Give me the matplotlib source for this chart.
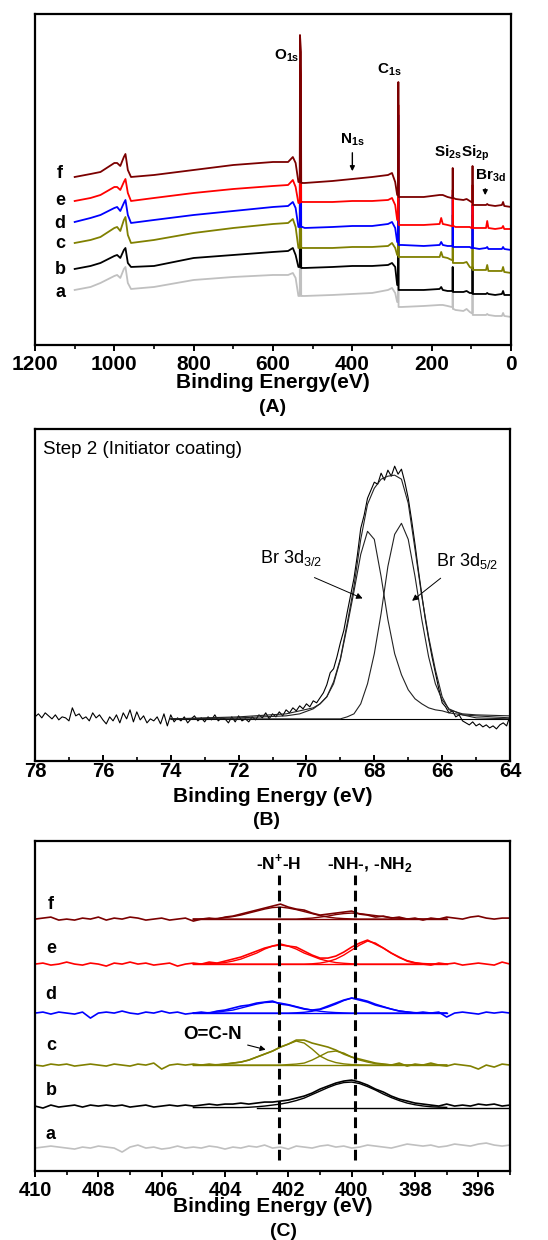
import numpy as np
import matplotlib
matplotlib.use('Agg')
import matplotlib.pyplot as plt
from matplotlib.ticker import MultipleLocator

plt.rcParams['font.family'] = ['Liberation Sans', 'DejaVu Sans']
plt.rcParams['axes.linewidth'] = 1.6

# ---------------- (A) survey spectra ----------------
energy_A = [1100, 1060, 1035, 1000, 993, 985, 976, 972, 966, 958,
            900, 800, 700, 600, 562, 550, 543, 536, 532.5, 532,
            529.5, 529, 526, 520, 450, 400, 350, 310, 300, 292,
            287, 284.5, 284, 283.5, 281, 275, 220, 180, 176, 172,
            160, 150, 147.5, 147, 146.5, 145, 140, 120, 112, 104,
            100, 97.5, 97, 96.5, 94, 80, 63, 60, 57, 40,
            23, 20, 17, 0]
survey_a = [55, 58, 62, 69, 70, 67, 76, 78, 62, 56,
            58, 65, 68, 70, 70, 72, 67, 49, 49, 190,
            180, 49, 49, 49, 50, 51, 52, 55, 57, 52,
            43, 43, 180, 38, 38, 38, 39, 40, 40, 40,
            39, 38, 38, 78, 36, 36, 35, 34, 36, 33,
            32, 32, 78, 30, 30, 30, 30, 31, 30, 29,
            29, 32, 29, 28]
survey_b = [76, 79, 82, 89, 90, 87, 95, 97, 82, 78,
            79, 87, 90, 93, 94, 97, 90, 78, 78, 210,
            200, 77, 77, 77, 78, 79, 79, 80, 82, 78,
            60, 60, 200, 55, 55, 55, 55, 56, 58, 55,
            54, 54, 54, 78, 53, 53, 53, 53, 54, 52,
            52, 52, 78, 51, 51, 51, 51, 52, 51, 50,
            51, 54, 50, 50]
survey_c = [102, 105, 108, 117, 118, 114, 125, 128, 110, 102,
            105, 112, 117, 121, 122, 126, 118, 97, 97, 230,
            220, 97, 97, 97, 97, 98, 98, 99, 102, 97,
            90, 90, 220, 88, 88, 88, 88, 88, 93, 88,
            87, 85, 85, 130, 82, 82, 82, 82, 83, 78,
            77, 77, 130, 75, 75, 75, 75, 80, 74, 74,
            74, 78, 73, 72]
survey_d = [123, 127, 130, 137, 138, 134, 142, 145, 130, 122,
            125, 130, 134, 138, 139, 143, 137, 118, 118, 250,
            240, 118, 118, 117, 118, 119, 119, 121, 123, 117,
            103, 103, 230, 100, 100, 100, 99, 100, 103, 100,
            99, 99, 99, 150, 98, 98, 98, 98, 98, 98,
            97, 97, 140, 97, 97, 96, 97, 98, 96, 96,
            96, 98, 96, 95]
survey_e = [144, 147, 150, 158, 158, 155, 163, 166, 152, 144,
            147, 152, 156, 159, 160, 165, 158, 142, 142, 280,
            270, 143, 143, 143, 143, 144, 144, 145, 147, 140,
            125, 125, 240, 120, 120, 120, 120, 121, 127, 121,
            120, 119, 119, 155, 119, 119, 118, 118, 118, 118,
            117, 117, 160, 117, 117, 117, 117, 124, 117, 116,
            117, 119, 116, 116]
survey_f = [168, 171, 173, 182, 182, 179, 188, 191, 175, 168,
            170, 175, 180, 183, 183, 188, 182, 163, 163, 310,
            293, 162, 162, 162, 164, 166, 168, 170, 172, 163,
            150, 150, 263, 148, 148, 148, 148, 150, 150, 150,
            148, 147, 147, 177, 147, 147, 146, 145, 146, 144,
            143, 143, 179, 140, 140, 140, 140, 141, 140, 139,
            140, 143, 139, 138]

sample_labels = ['a', 'b', 'c', 'd', 'e', 'f']
sample_colors = ['#c0c0c0', '#000000', '#808000', '#0000ff', '#ff0000', '#7b0000']

# ---------------- (B) Br 3d ----------------
br_raw = [44, 47, 43, 48, 45, 42, 46, 41, 44, 43,
          40, 53, 45, 47, 42, 44, 40, 48, 43, 46,
          41, 37, 44, 40, 46, 38, 48, 42, 51, 39,
          49, 41, 45, 38, 42, 40, 44, 37, 47, 35,
          46, 39, 43, 40, 44, 38, 42, 45, 40, 43,
          39, 44, 41, 46, 40, 43, 42, 38, 44, 39,
          45, 40, 42, 39, 44, 41, 46, 43, 48, 42,
          47, 44, 49, 45, 51, 48, 53, 50, 55, 52,
          57, 54, 60, 58, 63, 68, 76, 88, 92, 104,
          118, 130, 148, 165, 182, 205, 232, 245, 262, 270,
          278, 276, 287, 280, 290, 284, 294, 286, 291, 278,
          262, 240, 216, 190, 166, 142, 122, 104, 88, 72,
          58, 54, 48, 50, 44, 46, 40, 38, 36, 39,
          35, 37, 34, 36, 33, 35, 32, 36, 38, 35,
          45]
energy_B_raw = np.linspace(78.0, 64.0, len(br_raw))

energy_B_fit = [74.0, 72.0, 70.6, 70.2, 69.8, 69.6, 69.4, 69.2, 69.0, 68.8,
                68.6, 68.4, 68.2, 68.0, 67.8, 67.6, 67.4, 67.2, 67.0, 66.8,
                66.6, 66.4, 66.2, 66.0, 65.8, 65.4, 65.0, 64.0]
br_3d32 = [42, 43, 45, 47, 52, 57, 64, 77, 101, 134,
           169, 206, 229, 221, 184, 141, 107, 86, 71, 62,
           57, 53, 51, 50, 48, 46, 45, 43]
br_3d52 = [42, 42, 42, 42, 42, 42, 42, 42, 42, 44,
           47, 57, 77, 107, 147, 194, 226, 237, 221, 184,
           141, 104, 77, 61, 52, 46, 43, 42]
br_envelope = [42, 44, 47, 50, 53, 57, 64, 79, 102, 137,
               174, 221, 256, 272, 281, 284, 285, 281, 257, 211,
               164, 124, 91, 64, 51, 47, 46, 45]
br_background = 42

# ---------------- (C) N 1s ----------------
n1s_a = [0, 1, 2, 1, 0, -1, 1, 0, 2, 1,
         0, -4, 1, 3, 0, 1, -1, 0, 2, 0,
         1, 0, 2, 1, -1, 1, 0, 2, 1, 3,
         0, 1, -1, 2, 1, 0, 2, 3, 1, 2,
         0, 1, 3, 2, 1, 0, 2, 4, 3, 2,
         3, 1, 2, 4, 3, 2, 4, 5, 3, 2,
         3]
n1s_b = [0, -2, 1, -1, 0, 1, -1, 1, 0, 1,
         0, 1, -1, 0, 1, -1, 0, 1, 0, 1,
         0, 1, 2, 1, 2, 2, 3, 2, 3, 4,
         4, 5, 6, 8, 10, 13, 17, 20, 23, 25,
         26, 24, 21, 17, 14, 10, 7, 5, 3, 2,
         1, 0, 2, 0, 1, 0, 2, 1, 2, 0,
         1]
n1s_c = [0, -1, 1, 0, 1, -1, 0, 1, 0, -1,
         1, 0, -1, 1, 0, 2, -4, 0, 1, 0,
         1, 0, 1, 0, 1, 2, 3, 5, 8, 11,
         14, 18, 21, 25, 25, 22, 20, 18, 15, 11,
         8, 6, 4, 2, 1, 0, 2, -1, 1, 0,
         2, 0, -1, 1, 0, -1, -4, 0, -2, 1,
         0]
n1s_d = [0, 1, -1, 1, 0, -1, 1, -5, 0, 1,
         0, 2, 0, -1, 1, 0, 2, 0, 1, -1,
         0, 1, 0, 2, 3, 5, 7, 8, 10, 11,
         12, 9, 8, 6, 4, 3, 4, 7, 10, 13,
         15, 13, 11, 8, 6, 4, 2, 1, 0, 1,
         0, 1, -4, 0, 1, 0, -1, 1, 0, 1,
         0]
n1s_e = [0, 1, -1, 0, 2, 0, -1, 1, 0, -2,
         1, 0, 2, 0, 1, -1, 0, 1, -2, 0,
         1, 0, 2, 1, 3, 5, 7, 10, 13, 16,
         18, 20, 18, 17, 13, 9, 6, 6, 8, 12,
         17, 21, 24, 20, 16, 11, 7, 3, 1, 0,
         -1, 1, 0, 1, -1, 0, 1, 0, -1, 2,
         0]
n1s_f = [0, 1, 2, -1, 0, -1, 1, 0, 2, -1,
         1, 0, 2, 1, -1, 0, 1, -1, 0, 1,
         -2, 0, 1, 0, 2, 3, 5, 7, 9, 11,
         13, 15, 12, 10, 9, 6, 4, 5, 6, 7,
         8, 5, 4, 2, 3, 1, 2, 0, 1, -1,
         1, 0, 2, 1, 0, 2, 3, 1, 0, 1,
         1]
n1s_raw = [n1s_a, n1s_b, n1s_c, n1s_d, n1s_e, n1s_f]
energy_C_raw = np.linspace(410.0, 395.0, len(n1s_a))

energy_C_fit = np.linspace(405.0, 397.0, 33)
fit_b = [0, 0, 0, 0, 0, 0, 0, 0.3, 0.8, 1.5, 2.5, 3.5, 5, 7, 9.5, 13, 16.5,
         20, 23, 25, 25.5, 24, 21, 17.5, 13.5, 10, 7, 4.5, 2.8, 1.6, 0.8, 0.4, 0.2]
fit_c1 = [0, 0, 0.2, 0.5, 1, 2, 3, 5, 8, 11, 14, 18, 21, 24, 22, 16, 9,
          5, 2.5, 1.2, 0.5, 0.2, 0, 0, 0, 0, 0, 0, 0, 0, 0, 0, 0]
fit_c2 = [0, 0, 0, 0, 0, 0, 0, 0, 0, 0, 0, 0, 0.5, 1, 2, 5, 9,
          13, 14, 12, 8, 5, 3, 1.5, 0.8, 0.3, 0.1, 0, 0, 0, 0, 0, 0]
fit_d1 = [0, 0.2, 0.5, 1, 2, 3, 5, 7, 9, 10.5, 11, 10, 8.5, 6.5, 4.5, 3, 1.8,
          1, 0.5, 0.2, 0, 0, 0, 0, 0, 0, 0, 0, 0, 0, 0, 0, 0]
fit_d2 = [0, 0, 0, 0, 0, 0, 0, 0, 0, 0, 0, 0, 0, 0.3, 0.8, 1.8, 3.5,
          6, 9, 12.5, 15, 14, 12, 9, 6.5, 4, 2.2, 1.2, 0.5, 0.2, 0, 0, 0]
fit_e1 = [0, 0, 0.3, 0.8, 1.5, 3, 5, 8, 11, 15, 18, 19, 18, 15, 11, 8, 5,
          3, 1.5, 0.8, 0.3, 0, 0, 0, 0, 0, 0, 0, 0, 0, 0, 0, 0]
fit_e2 = [0, 0, 0, 0, 0, 0, 0, 0, 0, 0, 0, 0, 0, 0, 0, 0.3, 1,
          2.5, 5, 9, 14, 19, 23, 21, 16, 11, 6.5, 3.5, 1.5, 0.6, 0.2, 0, 0]
fit_f1 = [0, 0, 0.3, 0.7, 1.5, 2.5, 4, 6, 8, 10, 11.5, 12, 11, 9.5, 7.5, 5.5, 3.5,
          2, 1, 0.5, 0.2, 0, 0, 0, 0, 0, 0, 0, 0, 0, 0, 0, 0]
fit_f2 = [0, 0, 0, 0, 0, 0, 0, 0, 0, 0, 0, 0, 0, 0, 0.5, 1, 2,
          3, 4.5, 5.5, 6, 5.5, 4.5, 3.5, 2.5, 1.5, 0.8, 0.4, 0.2, 0, 0, 0, 0]
fits_C = {2: [fit_c1, fit_c2], 3: [fit_d1, fit_d2], 4: [fit_e1, fit_e2], 5: [fit_f1, fit_f2]}
b_fit_range = [403.0, 395.0]
b_fit_shift = -1.5
offsets_C = [23, 65, 106, 158, 207, 252]
ref_lines_C = [402.3, 399.9]


def style_axis(ax, size=14.5):
    for lab in ax.get_xticklabels():
        lab.set_fontweight('bold')
        lab.set_fontsize(size)
    ax.set_yticks([])


fig = plt.figure(figsize=(5.48, 12.4), dpi=100)

# ---- panel A ----
axA = fig.add_axes([0.0639, 0.7218, 0.8686, 0.2669])
surveys = [survey_a, survey_b, survey_c, survey_d, survey_e, survey_f]
for vals, col in zip(surveys, sample_colors):
    axA.plot(energy_A, vals, color=col, lw=1.3)
axA.set_xlim(1200, 0)
axA.set_ylim(0, 331)
axA.xaxis.set_major_locator(MultipleLocator(200))
axA.xaxis.set_minor_locator(MultipleLocator(100))
axA.tick_params(axis='x', which='major', direction='out', length=4, width=1.4, pad=3)
axA.tick_params(axis='x', which='minor', direction='out', length=3, width=1.2)
style_axis(axA, 15)
axA.set_xlabel('Binding Energy(eV)', fontsize=15, fontweight='bold')
axA.xaxis.set_label_coords(0.5, -0.085)
for lab, yb in zip(sample_labels, [48, 71, 97, 117, 140, 167]):
    axA.text(1137, yb, lab, fontsize=13, fontweight='bold', ha='center', va='baseline')
peak_kw = dict(fontsize=11, fontweight='bold', ha='center', va='baseline')
axA.text(565, 286, r'O$_{\mathregular{1s}}$', **peak_kw)
axA.text(308, 272, r'C$_{\mathregular{1s}}$', **peak_kw)
axA.text(399, 202, r'N$_{\mathregular{1s}}$', **peak_kw)
axA.text(159, 189, r'Si$_{\mathregular{2s}}$', **peak_kw)
axA.text(90, 189, r'Si$_{\mathregular{2p}}$', **peak_kw)
axA.text(53, 166, r'Br$_{\mathregular{3d}}$', **peak_kw)
arr = dict(arrowstyle='-|>', color='black', lw=1.0, mutation_scale=7)
axA.annotate('', xy=(400, 171), xytext=(400, 195), arrowprops=arr)
axA.annotate('', xy=(65, 147), xytext=(65, 159), arrowprops=arr)
fig.text(0.498, 0.671, '(A)', fontsize=14, fontweight='bold', ha='center', va='center')

# ---- panel B ----
axB = fig.add_axes([0.0639, 0.3863, 0.8668, 0.2677])
axB.plot(energy_B_raw, br_raw, color='black', lw=0.8)
axB.plot([energy_B_fit[0], energy_B_fit[-1]], [br_background, br_background], color='black', lw=0.8)
axB.plot(energy_B_fit, br_3d32, color='#222222', lw=0.8)
axB.plot(energy_B_fit, br_3d52, color='#222222', lw=0.8)
axB.plot(energy_B_fit, br_envelope, color='#222222', lw=0.8)
axB.set_xlim(78, 64)
axB.set_ylim(0, 331)
axB.xaxis.set_major_locator(MultipleLocator(2))
axB.xaxis.set_minor_locator(MultipleLocator(1))
axB.tick_params(axis='x', which='major', direction='in', length=4, width=1.4, pad=1)
axB.tick_params(axis='x', which='minor', direction='in', length=3, width=1.2)
style_axis(axB)
axB.set_xlabel('Binding Energy (eV)', fontsize=15, fontweight='bold')
axB.xaxis.set_label_coords(0.5, -0.078)
axB.text(77.76, 305.7, 'Step 2 (Initiator coating)', fontsize=13.5, va='baseline')
axB.text(71.37, 197.7, r'Br 3d$_{\mathregular{3/2}}$', fontsize=13, va='baseline')
axB.text(66.18, 194, r'Br 3d$_{\mathregular{5/2}}$', fontsize=13, va='baseline')
arrB = dict(arrowstyle='-|>', color='black', lw=0.7, mutation_scale=9)
axB.annotate('', xy=(68.27, 161), xytext=(69.84, 184), arrowprops=arrB)
axB.annotate('', xy=(66.95, 158), xytext=(65.98, 184), arrowprops=arrB)
fig.text(0.487, 0.3387, '(B)', fontsize=14, fontweight='bold', ha='center', va='center')

# ---- panel C ----
axC = fig.add_axes([0.0639, 0.0556, 0.8668, 0.2661])
for i, (vals, col, off) in enumerate(zip(n1s_raw, sample_colors, offsets_C)):
    axC.plot(energy_C_raw, np.array(vals) + off, color=col, lw=1.2)
    if i == 1:
        base = off + b_fit_shift
        axC.plot(b_fit_range, [base, base], color=col, lw=1.0)
        axC.plot(energy_C_fit, np.array(fit_b) + base, color=col, lw=1.0)
    if i in fits_C:
        axC.plot(energy_C_fit, np.zeros(len(energy_C_fit)) + off, color=col, lw=1.0)
        for comp in fits_C[i]:
            axC.plot(energy_C_fit, np.array(comp) + off, color=col, lw=1.0)
for xv in ref_lines_C:
    axC.axvline(xv, ymin=0.033, ymax=0.897, color='black', lw=2.2, dashes=(3.5, 1.8))
axC.set_xlim(410, 395)
axC.set_ylim(0, 330)
axC.xaxis.set_major_locator(MultipleLocator(2))
axC.xaxis.set_minor_locator(MultipleLocator(1))
axC.tick_params(axis='x', which='major', direction='out', length=4, width=1.4, pad=3)
axC.tick_params(axis='x', which='minor', direction='out', length=3, width=1.2)
style_axis(axC)
axC.set_xlabel('Binding Energy (eV)', fontsize=15, fontweight='bold')
axC.xaxis.set_label_coords(0.5, -0.08)
for lab, yb in zip(sample_labels, [32, 76, 121, 172, 218, 262]):
    axC.text(409.5, yb, lab, fontsize=13, fontweight='bold', ha='center', va='baseline')
axC.text(402.3, 302, r'-N$^{\mathregular{+}}$-H', fontsize=12.5, fontweight='bold', ha='center', va='baseline')
axC.text(399.42, 302, r'-NH-, -NH$_{\mathregular{2}}$', fontsize=12.5, fontweight='bold', ha='center', va='baseline')
axC.text(404.4, 132, 'O=C-N', fontsize=13.5, fontweight='bold', ha='center', va='baseline')
axC.annotate('', xy=(402.63, 120.7), xytext=(403.37, 126.7),
             arrowprops=dict(arrowstyle='-|>', color='black', lw=0.8, mutation_scale=8))
fig.text(0.517, 0.0065, '(C)', fontsize=14, fontweight='bold', ha='center', va='center')

fig.savefig('out.png', dpi=100)
